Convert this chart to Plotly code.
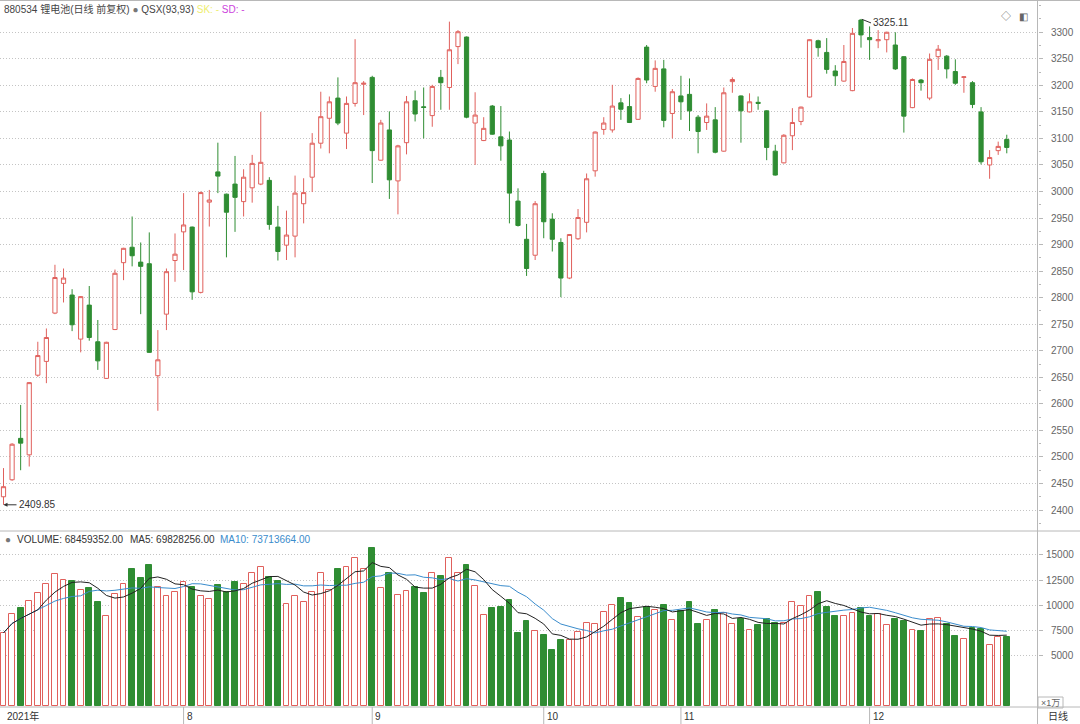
import plotly.graph_objects as go
import pandas as pd

# ---------------- data (index 880534 锂电池, daily, 2021) ----------------
opens = [2425, 2457, 2535, 2504, 2654, 2680, 2771, 2827, 2805, 2722,
         2786, 2717, 2648, 2740, 2866, 2895, 2867, 2864, 2653, 2769,
         2870, 2924, 2933, 2810, 2980, 3037, 2995, 3014, 2981, 3007,
         3014, 3021, 2933, 2899, 2916, 2977, 3027, 3091, 3138, 3176,
         3110, 3166, 3202, 3215, 3059, 3116, 3020, 3092, 3171, 3159.5,
         3143, 3215, 3196, 3273, 3291, 3129, 3096, 3161, 3103, 3097,
         2982, 2910, 2880, 3034, 2948, 2904, 2837, 2911, 2942, 3039,
         3117, 3116, 3167, 3160, 3136, 3272, 3198, 3231, 3147, 3180,
         3183, 3140, 3130, 3135, 3076, 3207, 3180, 3150, 3168, 3152,
         3076, 3054, 3105, 3132, 3178, 3284, 3262, 3227, 3208, 3190,
         3323, 3290, 3284, 3286, 3276, 3254, 3158, 3210, 3176, 3254,
         3255, 3226, 3215, 3205, 3150, 3050, 3077, 3098]
highs = [2479, 2526, 2598, 2641, 2717, 2742, 2862, 2855, 2816, 2803,
         2822, 2758, 2717, 2853, 2894, 2953, 2904, 2923, 2739, 2855,
         2921, 2997, 2934, 3000, 3003, 3092, 2996, 3067, 3042, 3069,
         3150, 3027, 2973, 2964, 3030, 3025, 3110, 3188, 3179, 3215,
         3179, 3287, 3208, 3218, 3135, 3151, 3088, 3180, 3190, 3196,
         3201, 3229, 3320, 3304, 3292, 3187, 3140, 3163, 3161, 3113,
         3006, 2939, 2982, 3039, 2959, 2912, 2920, 2967, 3034, 3113,
         3140, 3201, 3176, 3183, 3215, 3276, 3247, 3248, 3193, 3218,
         3213, 3144, 3166, 3159, 3196, 3215, 3181, 3185, 3179, 3153,
         3088, 3108, 3157, 3160, 3287, 3286, 3289, 3238, 3276, 3308,
         3325.11, 3311, 3304, 3301, 3300, 3255, 3213, 3212, 3260, 3276,
         3257, 3249, 3217, 3208, 3159, 3078, 3094, 3107]
lows = [2409.85, 2455, 2475, 2482, 2651, 2639, 2769, 2791, 2737, 2697,
        2719, 2664, 2647, 2739, 2833, 2859, 2769, 2696, 2587, 2739,
        2830, 2852, 2796, 2808, 2934, 2997, 2876, 2924, 2953, 2979,
        3012, 2928, 2870, 2871, 2876, 2940, 2999, 3081, 3072, 3125,
        3080, 3160, 3144, 3016, 3058, 2986, 2957, 3070, 3132, 3100,
        3122, 3154, 3154, 3240, 3138, 3050, 3095, 3107, 3058, 2940,
        2934, 2841, 2871, 2912, 2887, 2801, 2835, 2909, 2923, 3028,
        3107, 3111, 3135, 3129, 3135, 3204, 3188, 3121, 3100, 3135,
        3114, 3072, 3116, 3072, 3075, 3186, 3092, 3149, 3154, 3059,
        3030, 3053, 3078, 3125, 3177, 3254, 3222, 3199, 3207, 3189,
        3271, 3248, 3270, 3262, 3229, 3111, 3157, 3190, 3172, 3229,
        3213, 3201, 3186, 3157, 3051, 3024, 3069, 3072]
closes = [2444, 2524, 2526, 2640, 2691, 2725, 2838, 2837, 2749, 2802,
          2725, 2681, 2716, 2846, 2893, 2879, 2859, 2697, 2683, 2849,
          2882, 2937, 2811, 2998, 2984, 3029, 2961, 2989, 3027, 3053,
          3055, 2938, 2887, 2918, 2997, 2998, 3091, 3141, 3169, 3129,
          3166, 3205, 3204, 3077, 3129, 3022, 3086, 3169, 3146, 3158.5,
          3198, 3205, 3267, 3301, 3140, 3144, 3119, 3108, 3086, 2997,
          2936, 2855, 2977, 2943, 2910, 2837, 2919, 2951, 3024, 3112,
          3129, 3161, 3155, 3130, 3213, 3210, 3232, 3134, 3188, 3169,
          3152, 3113, 3142, 3074, 3186, 3211, 3152, 3169, 3166, 3083,
          3031, 3106, 3130, 3159, 3286, 3271, 3230, 3218, 3245, 3298,
          3295, 3286, 3286, 3300, 3231, 3142, 3211, 3205, 3249, 3268,
          3231, 3204, 3216, 3164, 3056, 3064, 3085, 3083]
# volume in 万 (x10,000)
volumes = [7254, 9113, 9678, 10441, 11238, 12101, 13064, 12500, 12433, 11504,
           11670, 10342, 8914, 11105, 12068, 13595, 12666, 13960, 11769, 10906,
           11304, 12267, 11769, 10906, 10607, 12002, 11304, 12334, 12068, 13230,
           13761, 12832, 12433, 10109, 10906, 10275, 11338, 13164, 11504, 13562,
           13761, 14658, 13562, 15654, 11670, 13164, 11006, 11404, 11769, 11172,
           13164, 12898, 14658, 13164, 13993, 11902, 9014, 9678, 9844, 10508,
           7254, 8449, 7420, 7022, 5594, 6524, 6590, 7354, 8184, 8084,
           9346, 10010, 10674, 10176, 8781, 9844, 9512, 10010, 8516, 9445,
           10342, 8117, 8516, 9512, 9180, 8117, 8582, 7586, 8018, 8615,
           8184, 8250, 10275, 9910, 10939, 11338, 9777, 8914, 8914, 9246,
           9744, 8914, 9080, 8018, 8615, 8449, 7586, 7420, 8582, 8682,
           8084, 6955, 6690, 7752, 7619, 6092, 6823, 6846]
month_labels = ["2021年", "8", "9", "10", "11", "12"]
month_start = [0, 21, 43, 63, 79, 101]
price_ticks = [2400, 2450, 2500, 2550, 2600, 2650, 2700, 2750, 2800, 2850,
               2900, 2950, 3000, 3050, 3100, 3150, 3200, 3250, 3300]
vol_ticks = [5000, 7500, 10000, 12500, 15000]
low_mark = (0, 2409.85)
high_mark = (100, 3325.11)

# ---------------- style ----------------
W, H = 1080, 724
RED = "#e0605c"
GREEN = "#2f8d33"
BLUE = "#3a8ccc"
GRID = "#c4c4c4"
LINE = "#b8b8b8"
TXT = "#555555"
FONT = "Liberation Sans, Noto Sans CJK SC, sans-serif"

def py(p):  # pixel row -> paper y
    return 1 - p / H

def px(p):  # pixel col -> paper x
    return p / W

PLOT_R = 1037.5
n = len(opens)
idx = list(range(n))
vs = pd.Series(volumes, dtype=float)
ma5 = vs.rolling(5, min_periods=1).mean()
ma10 = vs.rolling(10, min_periods=1).mean()
up = [c > o for o, c in zip(opens, closes)]

fig = go.Figure()
fig.add_trace(go.Candlestick(
    x=idx, open=opens, high=highs, low=lows, close=closes,
    increasing=dict(line=dict(color=RED, width=1), fillcolor="white"),
    decreasing=dict(line=dict(color=GREEN, width=1), fillcolor=GREEN),
    whiskerwidth=0, xaxis="x", yaxis="y", showlegend=False, hoverinfo="skip"))
fig.add_trace(go.Bar(
    x=idx, y=volumes, width=0.68,
    marker=dict(color=["white" if u else GREEN for u in up],
                line=dict(color=[RED if u else GREEN for u in up], width=1)),
    xaxis="x2", yaxis="y2", showlegend=False, hoverinfo="skip"))
fig.add_trace(go.Scatter(x=idx, y=ma10, mode="lines",
                         line=dict(color=BLUE, width=1),
                         xaxis="x2", yaxis="y2", showlegend=False, hoverinfo="skip"))
fig.add_trace(go.Scatter(x=idx, y=ma5, mode="lines",
                         line=dict(color="#222222", width=1),
                         xaxis="x2", yaxis="y2", showlegend=False, hoverinfo="skip"))

spacing = 8.575
x_left = -3.5 / spacing
x_right = (PLOT_R - 3.5) / spacing

common_x = dict(domain=[0, px(PLOT_R)], range=[x_left, x_right], showgrid=False,
                zeroline=False, showticklabels=False, ticks="", showline=False)
fig.update_layout(
    width=W, height=H, margin=dict(l=0, r=0, t=0, b=0),
    paper_bgcolor="white", plot_bgcolor="white",
    font=dict(family=FONT, size=10, color=TXT),
    hovermode=False, boxgap=0.3, bargap=0,
    xaxis=dict(**common_x, anchor="y", rangeslider=dict(visible=False)),
    xaxis2=dict(**common_x, anchor="y2", matches="x"),
    yaxis=dict(domain=[py(530), py(2)], range=[2362.4, 3357], side="right",
               tickvals=price_ticks, showticklabels=False,
               showgrid=True, gridcolor=GRID, griddash="1px,2px", gridwidth=1,
               zeroline=False, ticks="outside", ticklen=4, tickcolor=LINE,
               minor=dict(tick0=0, dtick=25, ticks="outside", ticklen=2, tickcolor=LINE, showgrid=False)),
    yaxis2=dict(domain=[py(706), py(531)], range=[-20, 17380], side="right",
                tickvals=vol_ticks, showticklabels=False,
                showgrid=True, gridcolor=GRID, griddash="1px,2px", gridwidth=1,
                zeroline=False, ticks="outside", ticklen=4, tickcolor=LINE),
)

ann = []
# right axis labels (right-aligned)
for v in price_ticks:
    ann.append(dict(x=px(1076), xref="paper", y=v, yref="y", text=str(v),
                    showarrow=False, xanchor="right", yanchor="middle",
                    font=dict(size=10, color="#666666")))
for v in vol_ticks:
    ann.append(dict(x=px(1076), xref="paper", y=v, yref="y2", text=str(v),
                    showarrow=False, xanchor="right", yanchor="middle",
                    font=dict(size=10, color="#666666")))
# header
ann.append(dict(x=px(2), xref="paper", y=py(9), yref="paper", xanchor="left", yanchor="middle",
                showarrow=False, font=dict(size=10, color="#444444"),
                text="880534 锂电池(日线 前复权) <span style='color:#777777'>●</span> QSX(93,93) "
                     "<span style='color:#eeee70'>SK: -</span> <span style='color:#cc44dd'>SD: -</span>"))
ann.append(dict(x=px(1013), xref="paper", y=py(9), yref="paper", showarrow=False,
                text="◇", font=dict(size=10, color="#666666")))
ann.append(dict(x=px(1030), xref="paper", y=py(9), yref="paper", showarrow=False,
                text="◧", font=dict(size=10, color="#666666")))
# volume header
ann.append(dict(x=px(3), xref="paper", y=py(539), yref="paper", xanchor="left", yanchor="middle",
                showarrow=False, text="●", font=dict(size=10, color="#777777")))
ann.append(dict(x=px(15), xref="paper", y=py(539), yref="paper", xanchor="left", yanchor="middle",
                showarrow=False, text="VOLUME: 68459352.00", font=dict(size=10, color="#333333")))
ann.append(dict(x=px(128), xref="paper", y=py(539), yref="paper", xanchor="left", yanchor="middle",
                showarrow=False, text="MA5: 69828256.00", font=dict(size=10, color="#333333")))
ann.append(dict(x=px(218), xref="paper", y=py(539), yref="paper", xanchor="left", yanchor="middle",
                showarrow=False, text="MA10: 73713664.00", font=dict(size=10, color=BLUE)))
# extreme markers
ann.append(dict(x=low_mark[0], y=low_mark[1], xref="x", yref="y", text=f"{low_mark[1]:.2f}",
                showarrow=True, ax=13, ay=0, xanchor="left", yanchor="middle",
                arrowhead=2, arrowsize=0.8, arrowwidth=1, arrowcolor="#333333", standoff=0,
                font=dict(size=10, color="#333333")))
ann.append(dict(x=high_mark[0], y=high_mark[1], xref="x", yref="y", text=f"{high_mark[1]:.2f}",
                showarrow=True, ax=10, ay=4, xanchor="left", yanchor="middle",
                arrowhead=0, arrowwidth=1, arrowcolor="#333333", standoff=1,
                font=dict(size=10, color="#333333")))
# date labels
for lab, i in zip(month_labels, month_start):
    ann.append(dict(x=i, xref="x", y=py(716), yref="paper", text=lab, showarrow=False,
                    xanchor="left", yanchor="middle", xshift=1, font=dict(size=10, color="#333333")))
ann.append(dict(x=px(1058), xref="paper", y=py(716), yref="paper", text="日线", showarrow=False,
                xanchor="center", yanchor="middle", font=dict(size=10, color="#333333")))
ann.append(dict(x=px(1050), xref="paper", y=py(703), yref="paper", text="×1万", showarrow=False,
                xanchor="center", yanchor="middle", font=dict(size=9, color="#666666")))
fig.update_layout(annotations=ann)

shapes = []
def hline(yp, x0=0, x1=W, color=LINE):
    shapes.append(dict(type="line", xref="paper", yref="paper", x0=px(x0), x1=px(x1),
                       y0=py(yp), y1=py(yp), line=dict(color=color, width=1)))
hline(0.5)
hline(531)
hline(707)
shapes.append(dict(type="line", xref="paper", yref="paper", x0=px(PLOT_R), x1=px(PLOT_R),
                   y0=0, y1=1, line=dict(color=LINE, width=1)))
for i in month_start[1:]:
    shapes.append(dict(type="line", xref="x", yref="paper", x0=i, x1=i,
                       y0=0, y1=py(707), line=dict(color=LINE, width=1)))
shapes.append(dict(type="rect", xref="paper", yref="paper", x0=px(1038), x1=px(1063),
                   y0=py(708), y1=py(697), line=dict(color=LINE, width=1)))
fig.update_layout(shapes=shapes)

fig.write_html("out.html", config={"displayModeBar": False},
               post_script="document.body.style.margin='0';document.body.style.overflow='hidden';")
